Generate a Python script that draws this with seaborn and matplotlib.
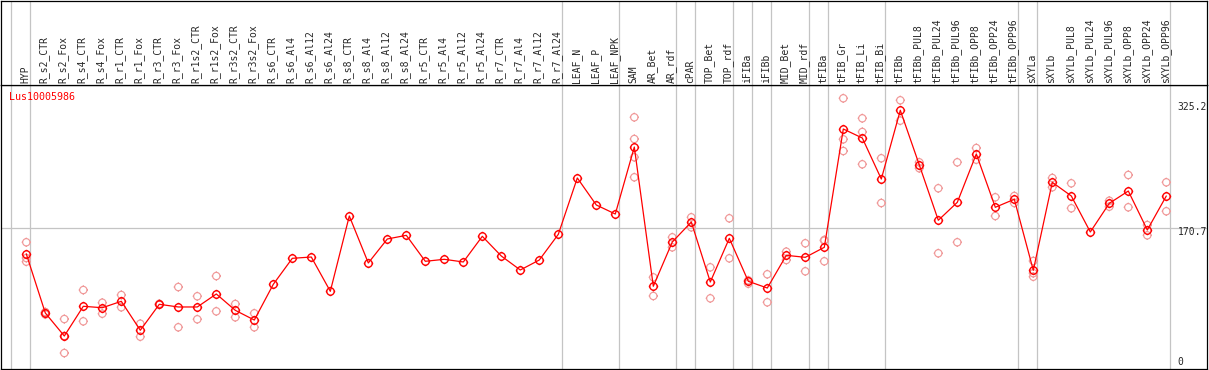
import numpy as np
import pandas as pd
import matplotlib
matplotlib.use('Agg')
import matplotlib.pyplot as plt
from matplotlib.path import Path
import seaborn as sns

# sample columns
samples = ['HYP', 'R_s2_CTR', 'R_s2_Fox', 'R_s4_CTR', 'R_s4_Fox', 'R_r1_CTR', 'R_r1_Fox',
           'R_r3_CTR', 'R_r3_Fox', 'R_r1s2_CTR', 'R_r1s2_Fox', 'R_r3s2_CTR', 'R_r3s2_Fox',
           'R_s6_CTR', 'R_s6_Al4', 'R_s6_Al12', 'R_s6_Al24', 'R_s8_CTR', 'R_s8_Al4',
           'R_s8_Al12', 'R_s8_Al24', 'R_r5_CTR', 'R_r5_Al4', 'R_r5_Al12', 'R_r5_Al24',
           'R_r7_CTR', 'R_r7_Al4', 'R_r7_Al12', 'R_r7_Al24', 'LEAF_N', 'LEAF_P', 'LEAF_NPK',
           'SAM', 'AR_Bet', 'AR_rdf', 'cPAR', 'TOP_Bet', 'TOP_rdf', 'iFIBa', 'iFIBb',
           'MID_Bet', 'MID_rdf', 'tFIBa', 'tFIB_Gr', 'tFIB_Li', 'tFIB_Bi', 'tFIBb',
           'tFIBb_PUL8', 'tFIBb_PUL24', 'tFIBb_PUL96', 'tFIBb_OPP8', 'tFIBb_OPP24',
           'tFIBb_OPP96', 'sXYLa', 'sXYLb', 'sXYLb_PUL8', 'sXYLb_PUL24', 'sXYLb_PUL96',
           'sXYLb_OPP8', 'sXYLb_OPP24', 'sXYLb_OPP96']

# mean expression per sample
means = [137.1, 59.8, 29.7, 68.6, 66.7, 75.1, 37.2, 71.2, 67.7, 67.7, 84.7, 63.3, 50.6,
         97.4, 131.4, 133.1, 88.2, 186.8, 125.3, 156.7, 161.5, 127.5, 130.1, 126.6, 160.2,
         134.4, 116.1, 129.2, 162.8, 236.6, 201.2, 189.4,
         277.1, 94.8, 152.8, 178.9, 100.4, 157.6, 101.3, 92.5, 135.3, 132.7, 145.8,
         300.7, 288.9, 235.2, 325.2, 253.6, 181.2, 204.7, 268.0, 198.2, 208.7,
         115.7, 230.9, 213.0, 165.9, 203.4, 219.5, 168.5, 213.0]

# replicate values per sample
reps = [[152.4, 131.8, 127.0], [57.9, 60.5, 61.0], [51.9, 29.7, 7.4], [89.9, 48.9],
        [73.3, 58.9], [83.4, 67.3], [45.8, 28.8], [70.5, 71.9], [93.8, 41.1], [81.7, 51.6],
        [108.2, 62.0], [71.6, 54.2], [59.4, 41.1],
        [], [], [], [], [], [], [], [], [], [], [], [], [], [], [], [], [], [], [],
        [316.0, 287.6, 263.7, 237.5], [106.5, 82.1], [158.9, 145.8], [185.1, 172.0],
        [119.6, 79.0], [183.8, 131.4], [102.6, 98.2], [110.5, 73.8], [140.1, 129.2],
        [151.1, 114.4], [155.4, 127.5, 154.5],
        [340.9, 287.2, 271.9], [314.7, 296.8, 254.5], [262.4, 203.8], [338.3, 311.6],
        [257.1, 249.3], [223.1, 138.0], [257.1, 152.4], [275.8, 260.5], [211.3, 186.8],
        [213.0, 203.8],
        [127.9, 111.9, 107.3], [236.6, 224.4], [229.6, 196.9], [], [206.8, 199.0],
        [240.5, 198.2], [175.0, 161.5], [230.9, 193.0]]

ytick_vals = [325.2, 170.7, 0]
ytick_text = ['325.2', '170.7', '0']
gene = 'Lus10005986'
group_ends = [-1, 0, 28, 31, 34, 35, 37, 38, 39, 41, 42, 45, 52, 53, 60]

pos = np.arange(len(samples))
rep_df = pd.DataFrame([(i, v) for i, r in enumerate(reps) for v in r], columns=['pos', 'val'])
mean_df = pd.DataFrame({'pos': pos, 'val': means})

sns.set_style('white')
plt.rcParams['font.family'] = ['DejaVu Sans Mono']

# circle marker (polygon) with four short ticks
th = np.linspace(0, 2 * np.pi, 41)
verts = list(zip(np.cos(th), np.sin(th)))
codes = [Path.MOVETO] + [Path.LINETO] * 40
tk = 1.28
verts += [(0, 1), (0, tk), (0, -1), (0, -tk), (1, 0), (tk, 0), (-1, 0), (-tk, 0)]
codes += [Path.MOVETO, Path.LINETO] * 4
mk = Path(verts, codes)

W, H = 1209, 370
fig = plt.figure(figsize=(W / 100, H / 100), dpi=100)
ax = fig.add_axes([1 / W, 0.7 / H, 1205.7 / W, 284.3 / H])
top = fig.add_axes([1 / W, 285 / H, 1205.7 / W, 84.5 / H])

xl = (-1.332, 62.126)
for a in (ax, top):
    a.set_xlim(*xl)
    a.set_xticks([])
    a.set_yticks([])
    for s in a.spines.values():
        s.set_color('black')
        s.set_linewidth(0.9)
    for b in group_ends:
        a.axvline(b + 0.2, color='#c4c4c4', lw=0.9, zorder=0)

ax.set_ylim(-13.9, 358.3)
ax.axhline(170.7, color='#c4c4c4', lw=0.9, zorder=0)

sns.scatterplot(data=rep_df, x='pos', y='val', marker=mk, s=45, color='#f09898',
                facecolor='none', edgecolor='#f09898', linewidth=0.85, legend=False,
                ax=ax, zorder=2)
sns.lineplot(data=mean_df, x='pos', y='val', color='red', lw=0.9, marker=mk,
             markersize=6.8, markerfacecolor='none', markeredgecolor='red',
             markeredgewidth=1.0, errorbar=None, ax=ax, zorder=3)
ax.set_xlabel('')
ax.set_ylabel('')

for v, t, dy in zip(ytick_vals, ytick_text, [2.2, -2.7, -2.2]):
    ax.annotate(t, xy=(0.976, v), xycoords=('axes fraction', 'data'), xytext=(0, dy),
                textcoords='offset points', ha='left', va='center', fontsize=7)

ax.text(0.0069, 0.957, gene, transform=ax.transAxes, color='red', ha='left',
        va='center', fontsize=7.2)

top.set_ylim(0, 1)
for i, name in enumerate(samples):
    top.text(i - 0.05, 0.025, name, rotation=90, ha='center', va='bottom', fontsize=7)

fig.savefig('out.png', dpi=100)
